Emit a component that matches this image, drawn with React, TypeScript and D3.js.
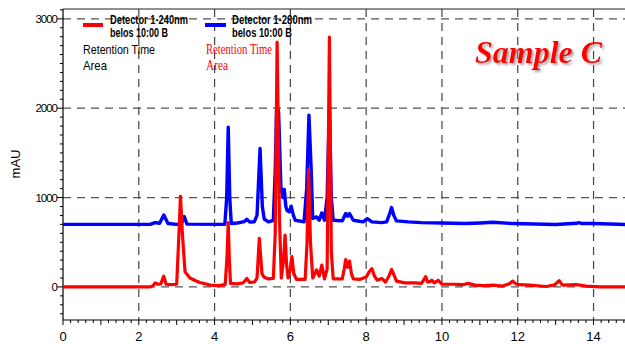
import React from "react";
import * as d3 from "d3";

// retention time (min) / absorbance (mAU)
const redTime = [
  0, 2.3, 2.38, 2.43, 2.5, 2.58, 2.66, 2.72, 2.85, 3.0, 3.05, 3.1, 3.15, 3.22, 3.35, 3.5, 3.61, 3.75, 3.88, 4.1,
  4.28, 4.33, 4.36, 4.39, 4.42, 4.6, 4.75, 4.85, 4.93, 5.05, 5.12, 5.18, 5.25, 5.3, 5.42, 5.55, 5.6, 5.65, 5.71,
  5.76, 5.82, 5.86, 5.9, 5.94, 6.0, 6.04, 6.09, 6.16, 6.39, 6.44, 6.48, 6.53, 6.59, 6.69, 6.76, 6.83, 6.9, 6.97,
  7.03, 7.08, 7.13, 7.37, 7.42, 7.46, 7.51, 7.56, 7.61, 7.66, 7.84, 8.0, 8.08, 8.15, 8.22, 8.29, 8.41, 8.51, 8.6,
  8.67, 8.74, 8.8, 9.02, 9.28, 9.46, 9.52, 9.57, 9.62, 9.68, 9.73, 9.8, 9.9, 10.0, 10.34, 10.55, 10.69, 10.87,
  11.1, 11.35, 11.6, 11.78, 11.86, 11.95, 12.02, 12.32, 12.76, 12.98, 13.09, 13.18, 13.55, 13.8, 14.17, 14.83,
];
const redValue = [
  0, 0, 15, 45, 30, 35, 120, 30, 25, 30, 500, 1015, 600, 170, 100, 70, 50, 35, 20, 15,
  25, 350, 720, 300, 40, 35, 45, 95, 50, 55, 100, 545, 150, 110, 90, 95, 600, 2740, 800,
  100, 300, 580, 250, 100, 200, 340, 150, 85, 85, 500, 1310, 500, 100, 190, 120, 245, 90, 200,
  2795, 400, 90, 90, 200, 305, 220, 290, 150, 90, 85, 110, 170, 205, 120, 75, 95, 55, 120,
  195, 130, 65, 45, 45, 40, 80, 115, 55, 60, 75, 45, 75, 30, 30, 25, 40, 20,
  15, 20, 10, 35, 65, 35, 25, 20, 5, 25, 70, 20, 25, 10, 0, 0,
];
const blueTime = [
  0, 2.3, 2.43, 2.55, 2.66, 2.77, 3.0, 3.12, 3.2, 3.27, 4.27, 4.32, 4.36, 4.4, 4.44, 4.6, 4.78, 4.85, 4.93, 5.05,
  5.12, 5.2, 5.26, 5.31, 5.42, 5.55, 5.6, 5.64, 5.69, 5.75, 5.8, 5.84, 5.88, 5.91, 5.97, 6.02, 6.08, 6.13, 6.36,
  6.43, 6.49, 6.55, 6.59, 6.69, 6.76, 6.83, 6.9, 6.97, 7.03, 7.08, 7.13, 7.37, 7.46, 7.51, 7.56, 7.66, 7.92, 8.03,
  8.15, 8.41, 8.54, 8.62, 8.67, 8.73, 8.8, 9.11, 9.46, 10.0, 10.61, 11.0, 11.35, 11.88, 13.0, 13.55, 13.62, 13.68,
  14.0, 14.83,
];
const blueValue = [
  700, 700, 720, 712, 805, 710, 700, 705, 787, 703, 700, 1000, 1788, 1000, 710, 715, 730, 758, 725, 730,
  800, 1549, 900, 760, 728, 746, 1300, 2052, 1950, 1120, 1000, 1090, 900, 858, 840, 903, 800, 746, 728,
  1100, 1922, 1300, 765, 784, 746, 828, 746, 1000, 2007, 1000, 746, 739, 821, 791, 821, 746, 728, 765,
  728, 720, 728, 820, 888, 800, 739, 728, 720, 716, 709, 716, 724, 709, 698, 712, 720, 710,
  709, 698,
];

const xTickLabels = [0, 2, 4, 6, 8, 10, 12, 14];
const yTickLabels = [0, 1000, 2000, 3000];
const legendNames = ["Detector 1-240nm", "Detector 1-280nm"];
const legendSub = "belos 10:00 B";

const W = 625;
const H = 344;
const sans = "'Liberation Sans', Arial, sans-serif";
const serif = "'Liberation Serif', 'Times New Roman', serif";

const App = () => {
  const x = d3.scaleLinear().domain([0, 14.83]).range([63, 625]);
  const y = d3.scaleLinear().domain([-370, 3110]).range([320, 9]);
  const [x0, x1] = x.range();
  const [yb, yt] = y.range();

  const line = d3
    .line<[number, number]>()
    .x((d) => x(d[0]))
    .y((d) => y(d[1]));

  const red = redTime.map((t, i) => [t, redValue[i]] as [number, number]);
  const blue = blueTime.map((t, i) => [t, blueValue[i]] as [number, number]);

  const xMinor = d3.range(0, 14.81, 0.2).map((v) => Math.round(v * 10) / 10);
  const yMinor = d3.range(-300, 3101, 100);

  return (
    <svg width={W} height={H} style={{ position: "absolute", left: 0, top: 0, background: "#fff" }}>
      <defs>
        <filter id="titleShadow" x="-10%" y="-20%" width="130%" height="150%">
          <feDropShadow dx={2} dy={2} stdDeviation={0.8} floodColor="#888" floodOpacity={0.7} />
        </filter>
      </defs>

      {/* grid */}
      {xTickLabels.filter((v) => v > 0).map((v) => (
        <line key={"gx" + v} x1={x(v)} x2={x(v)} y1={yt} y2={yb} stroke="#444" strokeWidth={1.2} strokeDasharray="8,6" />
      ))}
      {yTickLabels.map((v) => (
        <line key={"gy" + v} x1={x0} x2={x1} y1={y(v)} y2={y(v)} stroke="#555" strokeWidth={1.3} strokeDasharray="8,6" />
      ))}

      {/* frame */}
      <line x1={x0} x2={x1} y1={yt} y2={yt} stroke="#222" strokeWidth={1} />
      <line x1={x0} x2={x0} y1={yt} y2={yb} stroke="#000" strokeWidth={1.2} />
      <line x1={x0} x2={x1} y1={yb} y2={yb} stroke="#000" strokeWidth={1.2} />

      {/* y ticks */}
      {yMinor.map((v) => {
        const major = v % 1000 === 0;
        return <line key={"ty" + v} x1={x0 - (major ? 6 : 3)} x2={x0} y1={y(v)} y2={y(v)} stroke="#000" strokeWidth={1} />;
      })}
      {yTickLabels.map((v) => (
        <text key={"ly" + v} x={x0 - 6} y={y(v) + 4} textAnchor="end" fontFamily={sans} fontSize={11.5} letterSpacing={-1} fill="#000">
          {v}
        </text>
      ))}

      {/* x ticks */}
      {xMinor.map((v) => {
        const major = Math.abs(v - Math.round(v)) < 1e-6;
        return <line key={"tx" + v} x1={x(v)} x2={x(v)} y1={yb} y2={yb + (major ? 5 : 3)} stroke="#000" strokeWidth={1} />;
      })}
      {xTickLabels.map((v) => (
        <text key={"lx" + v} x={x(v)} y={341} textAnchor="middle" fontFamily={sans} fontSize={13} fill="#000">
          {v}
        </text>
      ))}

      <text transform="translate(20,164) rotate(-90)" textAnchor="middle" fontFamily={sans} fontSize={13} fill="#000">
        mAU
      </text>

      {/* traces */}
      <path d={line(blue) ?? ""} fill="none" stroke="#0000ff" strokeWidth={3.4} strokeLinejoin="round" />
      <path d={line(red) ?? ""} fill="none" stroke="#ff0000" strokeWidth={3.2} strokeLinejoin="round" />

      {/* legend */}
      <line x1={83} x2={103} y1={25} y2={25} stroke="#ff0000" strokeWidth={4} />
      <text x={110} y={24} fontFamily={sans} fontSize={12} fontWeight="bold" textLength={78} lengthAdjust="spacingAndGlyphs">
        {legendNames[0]}
      </text>
      <text x={110} y={37} fontFamily={sans} fontSize={12} fontWeight="bold" textLength={58} lengthAdjust="spacingAndGlyphs">
        {legendSub}
      </text>
      <line x1={205} x2={226} y1={25} y2={25} stroke="#0000ff" strokeWidth={4} />
      <text x={232} y={24} fontFamily={sans} fontSize={12} fontWeight="bold" textLength={80} lengthAdjust="spacingAndGlyphs">
        {legendNames[1]}
      </text>
      <text x={232} y={37} fontFamily={sans} fontSize={12} fontWeight="bold" textLength={60} lengthAdjust="spacingAndGlyphs">
        {legendSub}
      </text>
      <text x={83} y={54} fontFamily={sans} fontSize={13} textLength={72} lengthAdjust="spacingAndGlyphs">
        Retention Time
      </text>
      <text x={83} y={70} fontFamily={sans} fontSize={13} textLength={24} lengthAdjust="spacingAndGlyphs">
        Area
      </text>
      <text x={206} y={54} fontFamily={serif} fontSize={14} fill="#ff0000" textLength={66} lengthAdjust="spacingAndGlyphs">
        Retention Time
      </text>
      <text x={206} y={70} fontFamily={serif} fontSize={14} fill="#ff0000" textLength={22} lengthAdjust="spacingAndGlyphs">
        Area
      </text>

      {/* title */}
      <text x={475} y={63} fontFamily={serif} fontSize={32} fontWeight="bold" fontStyle="italic" fill="#ff0000" filter="url(#titleShadow)">
        Sample C
      </text>
    </svg>
  );
};

export default App;
